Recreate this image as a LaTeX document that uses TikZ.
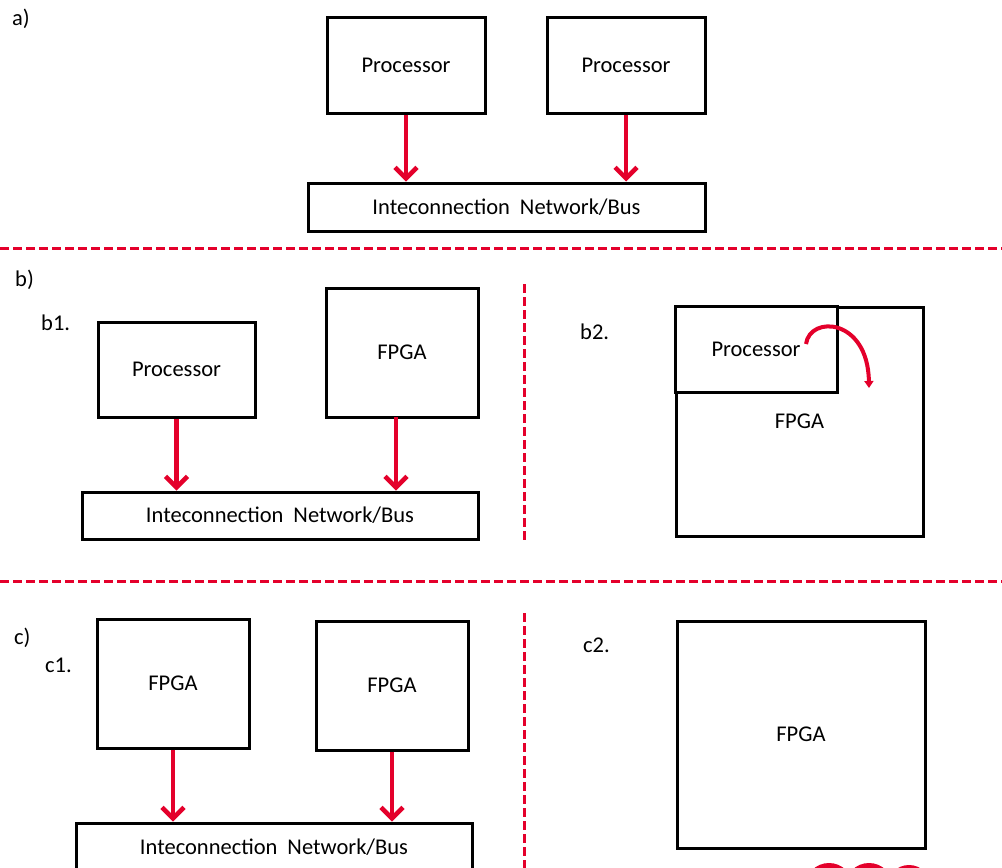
\documentclass[tikz,border=0pt]{standalone}
\usepackage{fontspec}
\setmainfont{Carlito}
\usetikzlibrary{arrows.meta}
\definecolor{linkred}{RGB}{228,0,43}
\begin{document}
\begin{tikzpicture}[x=1pt,y=-1pt,
  every node/.style={font=\fontsize{22.5}{27}\selectfont},
  box/.style={draw=black, line width=3pt, inner sep=0pt, fill=white},
  tag/.style={anchor=west, inner sep=0pt},
  link/.style={draw=linkred, line width=4.5pt,
    -{Straight Barb[length=11pt,width=22pt]}},
  divider/.style={draw=linkred, line width=3pt, dash pattern=on 9pt off 4pt}]
\useasboundingbox (0,0) rectangle (1002,868);
\clip (0,0) rectangle (1002,868);
\fill[white] (0,0) rectangle (1002,868);

% section separators
\coordinate (h1w) at (0,248);   \coordinate (h1e) at (1002,248);
\coordinate (h2w) at (0,581);   \coordinate (h2e) at (1002,581);
\coordinate (v1n) at (524,284); \coordinate (v1s) at (524,541);
\coordinate (v2n) at (524,613); \coordinate (v2s) at (524,868);
\draw[divider] (h1w) -- (h1e);
\draw[divider] (h2w) -- (h2e);
\draw[divider] (v1n) -- (v1s);
\draw[divider] (v2n) -- (v2s);

% a) processors on a shared bus
\node[tag] (la) at (12,19) {a)};
\node[box, minimum width=158pt, minimum height=96pt] (ap1) at (406,65) {\raisebox{-2pt}{Processor}};
\node[box, minimum width=158pt, minimum height=96pt] (ap2) at (626,65) {\raisebox{-2pt}{Processor}};
\node[box, minimum width=397pt, minimum height=48pt] (abus) at (506.5,207)
  {Inteconnection\hspace{10pt}Network/Bus};
\draw[link] (ap1.south) -- (ap1.south |- abus.north);
\draw[link] (ap2.south) -- (ap2.south |- abus.north);

% b) processor and FPGA
\node[tag] (lb) at (15,280) {b)};
\node[tag] (lb1) at (41,323) {b1.};
\node[box, minimum width=157pt, minimum height=95pt] (bp) at (176.5,369.5) {\raisebox{-1pt}{Processor}};
\node[box, minimum width=152pt, minimum height=129pt] (bf) at (402,352.5) {FPGA};
\node[box, minimum width=396pt, minimum height=47pt] (bbus) at (280,515.5)
  {\raisebox{-1pt}{Inteconnection\hspace{10pt}Network/Bus}};
\coordinate (bfo) at (396,417);
\draw[link] (bp.south) -- (bp.south |- bbus.north);
\draw[link] (bfo) -- (bfo |- bbus.north);

\node[tag] (lb2) at (580,332) {b2.};
\node[box, minimum width=247pt, minimum height=229pt] (bbig) at (799.5,421.5) {FPGA};
\node[box, minimum width=162pt, minimum height=86pt] (bin) at (756,349) {\raisebox{-2pt}{Processor}};
\coordinate (cs) at (806,344);
\coordinate (ce) at (869,388);
\draw[draw=linkred, line width=4pt, -{Triangle[length=7pt,width=9pt]}]
  (cs) .. controls (810,315) and (868,318) .. (ce);

% c) FPGAs only
\node[tag] (lc) at (14,638) {c)};
\node[tag] (lc1) at (45,665) {c1.};
\node[box, minimum width=152pt, minimum height=129pt] (cf1) at (173,683.5) {FPGA};
\node[box, minimum width=152pt, minimum height=129pt] (cf2) at (392,685.5) {FPGA};
\node[box, minimum width=396pt, minimum height=48pt] (cbus) at (274,847)
  {Inteconnection\hspace{10pt}Network/Bus};
\draw[link] (cf1.south) -- (cf1.south |- cbus.north);
\draw[link] (cf2.south) -- (cf2.south |- cbus.north);

\node[tag] (lc2) at (583,645) {c2.};
\node[box, minimum width=248pt, minimum height=227pt] (cbig) at (801,734.5) {FPGA};

% red mark along the lower edge
\fill[linkred] (829,887) circle (24);
\fill[linkred] (869,887) circle (24);
\fill[linkred] (909,887) circle (22);
\draw[linkred, line width=9pt] (978,890) arc (180:60:26);
\end{tikzpicture}
\end{document}
